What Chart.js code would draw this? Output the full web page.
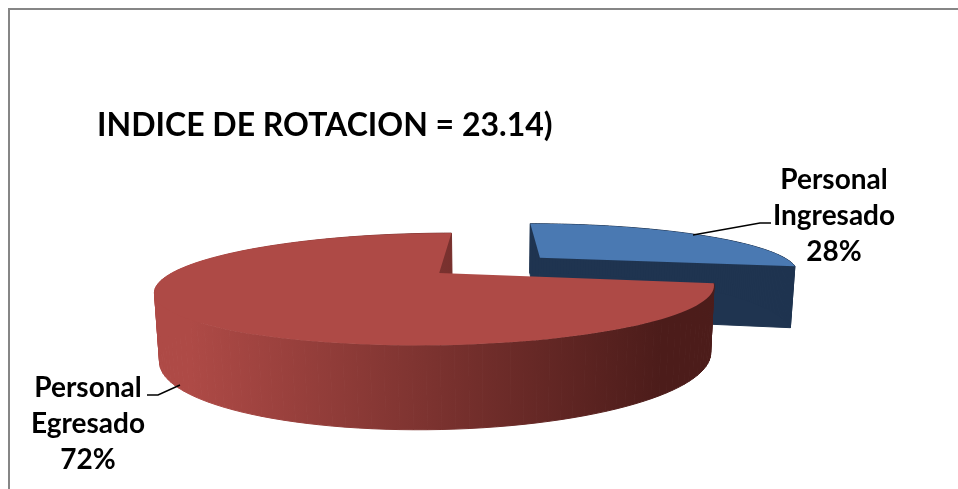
<!DOCTYPE html>
<html>
<head>
<meta charset="utf-8">
<style>
  body { margin: 0; background: #fff; overflow: hidden; }
  #marco { position: absolute; left: 8px; top: 8px; width: 960px; height: 490px; border-left: 2px solid #868686; border-top: 2px solid #868686; }
  #grafico { position: absolute; left: 0; top: 0; }
</style>
</head>
<body>
<div id="marco"></div>
<canvas id="grafico" width="958" height="489"></canvas>
<script src="https://cdn.jsdelivr.net/npm/chart.js@4"></script>
<script>
var etichette = ["Personal Ingresado", "Personal Egresado"];
var valori = [28, 72];
var colori = ["#4a79b2", "#ae4a46"];
var esplosione = [51, 0];
var titolo = "INDICE DE ROTACION = 23.14)";

var FONT = "Lato, Carlito, Calibri, sans-serif";

// perspective of the pie: plane coordinates (radius = 1) to screen
var cam = { vx: 494, vy: 95, h: 616, d: 3.46, f: 925, x0: 0.205, vyBase: 107, hBase: 794, conv: 0.985 };

function proietta(X, Z, base) {
  var x = cam.vx + cam.f * (X - cam.x0) / (cam.d + Z);
  if (base) {
    return { x: cam.vx + (x - cam.vx) * cam.conv, y: cam.vyBase + cam.hBase / (cam.d + Z) };
  }
  return { x: x, y: cam.vy + cam.h / (cam.d + Z) };
}

function puntoSlice(fetta, t, base) {
  return proietta(fetta.ox + Math.sin(t), fetta.oz + Math.cos(t), base);
}

function datiFetta(el) {
  var inizio = el.startAngle + Math.PI / 2;
  var fine = el.endAngle + Math.PI / 2;
  var medio = (inizio + fine) / 2;
  var off = (el.options.offset || 0) / 100;
  return { inizio: inizio, fine: fine, ox: off * Math.sin(medio), oz: off * Math.cos(medio) };
}

function bordo(fetta, base) {
  var punti = [];
  for (var i = 0; i <= 120; i++) {
    punti.push(puntoSlice(fetta, fetta.inizio + (fetta.fine - fetta.inizio) * i / 120, base));
  }
  return punti;
}

function poligono(ctx, punti, colore) {
  ctx.beginPath();
  punti.forEach(function(p, i) {
    if (i === 0) ctx.moveTo(p.x, p.y);
    else ctx.lineTo(p.x, p.y);
  });
  ctx.closePath();
  ctx.fillStyle = colore;
  ctx.fill();
}

// side wall, one strip at a time so the rim and the base can cross
function fianco(ctx, rim, rimBase, colore) {
  ctx.fillStyle = colore;
  ctx.strokeStyle = colore;
  ctx.lineWidth = 1;
  for (var i = 0; i < rim.length - 1; i++) {
    ctx.beginPath();
    ctx.moveTo(rim[i].x, rim[i].y);
    ctx.lineTo(rim[i + 1].x, rim[i + 1].y);
    ctx.lineTo(rimBase[i + 1].x, rimBase[i + 1].y);
    ctx.lineTo(rimBase[i].x, rimBase[i].y);
    ctx.closePath();
    ctx.fill();
    ctx.stroke();
  }
}

function testoEtichetta(ctx, righe, cx, y0, passo) {
  ctx.font = "bold 28px " + FONT;
  ctx.fillStyle = "#000";
  ctx.textAlign = "center";
  ctx.textBaseline = "alphabetic";
  righe.forEach(function(r, i) {
    ctx.fillText(r, cx, y0 + i * passo);
  });
}

function linea(ctx, punti) {
  ctx.beginPath();
  punti.forEach(function(p, i) {
    if (i === 0) ctx.moveTo(p[0], p[1]);
    else ctx.lineTo(p[0], p[1]);
  });
  ctx.strokeStyle = "#000";
  ctx.lineWidth = 1.5;
  ctx.stroke();
}

var torta3d = {
  id: "torta3d",
  beforeDatasetDraw: function(chart, args) {
    var ctx = chart.ctx;
    var arcs = chart.getDatasetMeta(args.index).data;
    var f0 = datiFetta(arcs[0]);
    var f1 = datiFetta(arcs[1]);

    // blue slice first, it sits behind the red one
    var apice0 = proietta(f0.ox, f0.oz, false);
    var apice0b = proietta(f0.ox, f0.oz, true);
    var rim0 = bordo(f0, false);
    var rim0b = bordo(f0, true);
    var blu = "#1f3450";
    fianco(ctx, [rim0[0], apice0, rim0[120]], [rim0b[0], apice0b, rim0b[120]], blu);
    fianco(ctx, rim0, rim0b, blu);
    poligono(ctx, [apice0].concat(rim0), colori[0]);

    // red slice
    var apice1 = proietta(f1.ox, f1.oz, false);
    var apice1b = proietta(f1.ox, f1.oz, true);
    var rim1 = bordo(f1, false);
    var rim1b = bordo(f1, true);
    poligono(ctx, [apice1, rim1[120], rim1b[120], apice1b], "#9a3f3b");
    var grad = ctx.createLinearGradient(190, 0, 660, 0);
    grad.addColorStop(0, "#ae4a46");
    grad.addColorStop(1, "#4c1c1a");
    fianco(ctx, rim1, rim1b, grad);
    poligono(ctx, [apice1].concat(rim1), colori[1]);

    return false;
  },
  afterDatasetsDraw: function(chart) {
    var ctx = chart.ctx;
    var tot = valori[0] + valori[1];
    var pos = [[834, 189], [88, 397]];
    etichette.forEach(function(nome, i) {
      var righe = nome.split(" ");
      righe.push(Math.round(valori[i] / tot * 100) + "%");
      testoEtichetta(ctx, righe, pos[i][0], pos[i][1], 36);
    });
    linea(ctx, [[693, 235], [760, 223], [771, 223]]);
    linea(ctx, [[180, 385], [158, 395], [147, 395]]);
  }
};

new Chart(document.getElementById("grafico"), {
  type: "pie",
  data: {
    labels: etichette,
    datasets: [{
      data: valori,
      backgroundColor: colori,
      offset: esplosione,
      borderWidth: 0
    }]
  },
  options: {
    responsive: false,
    animation: false,
    devicePixelRatio: 1,
    layout: { padding: { left: 97, top: 106 } },
    plugins: {
      legend: { display: false },
      tooltip: { enabled: false },
      title: {
        display: true,
        text: titolo,
        align: "start",
        color: "#000",
        padding: 0,
        font: { family: FONT, size: 32, weight: "bold" }
      }
    }
  },
  plugins: [torta3d]
});
</script>
</body>
</html>
